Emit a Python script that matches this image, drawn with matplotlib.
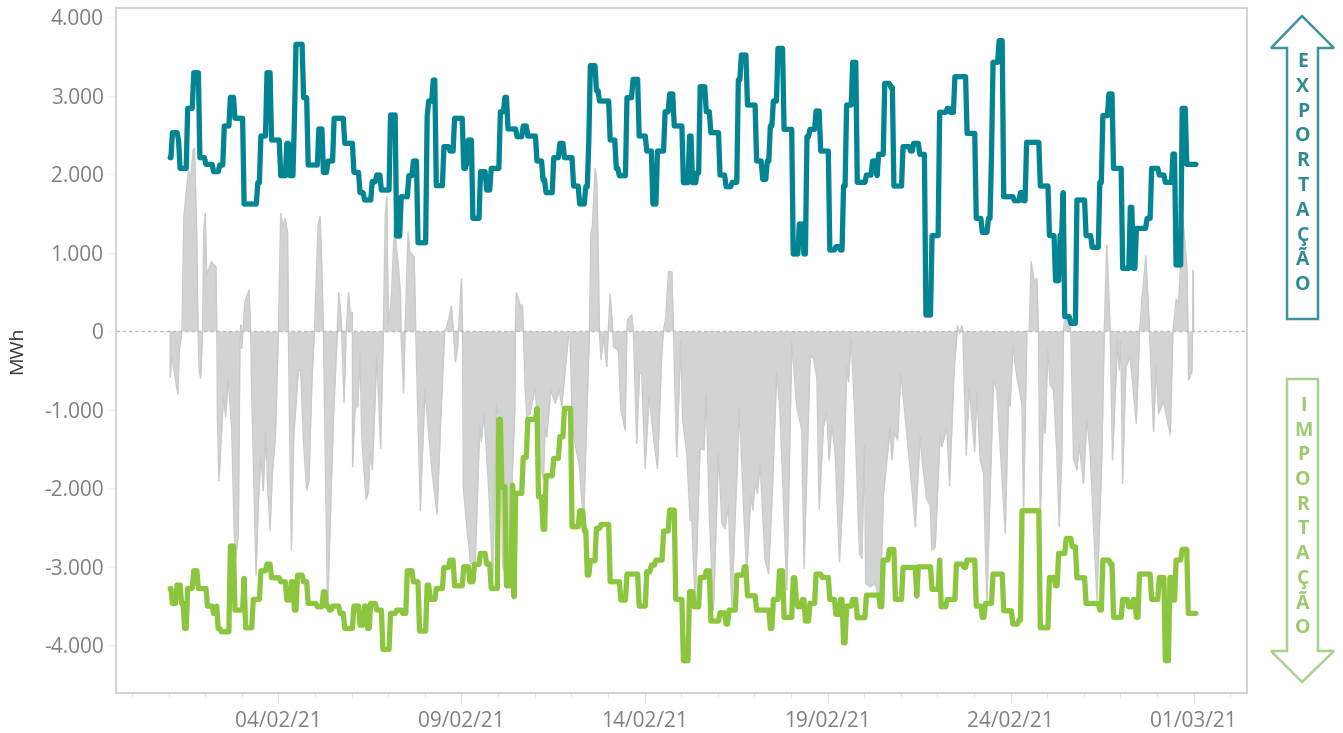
# %%
import matplotlib.pyplot as plt
import pandas as pd
from matplotlib.patches import Polygon

plt.rcParams["font.family"] = ["Open Sans", "DejaVu Sans"]

start = pd.Timestamp("2021-02-01")

# (hours after start, MWh), levels hold until the next point
export_points = [
    (1, 2208), (2, 2527), (6, 2433), (7, 2072), (12, 2837), (16, 3291), (20, 2208), (24, 2123),
    (29, 2030), (33, 2115), (36, 2612), (40, 2977), (43, 2710), (49, 1618), (58, 1890), (60, 2484),
    (64, 3291), (67, 2433), (73, 1979), (77, 2391), (79, 1979), (82, 2710), (83, 3652), (88, 2973),
    (91, 2115), (98, 2574), (101, 2021), (104, 2166), (108, 2710), (115, 2391), (121, 2021),
    (125, 1763), (128, 1669), (133, 1903), (136, 1987), (139, 1796), (145, 2752), (149, 1210),
    (152, 1711), (157, 1979), (160, 2166), (163, 1125), (169, 2731), (170, 2930), (173, 3198),
    (175, 1852), (180, 2349), (184, 2293), (187, 2710), (193, 2072), (195, 2136), (196, 2433),
    (199, 1435), (204, 2030), (208, 1796), (211, 2072), (217, 2794), (220, 2977), (222, 2574),
    (228, 2476), (232, 2612), (235, 2484), (241, 2166), (245, 1924), (247, 1763), (252, 2208),
    (256, 2391), (259, 2208), (265, 1847), (269, 1618), (273, 1839), (275, 2433), (276, 3381),
    (280, 3062), (282, 2930), (289, 2433), (293, 2072), (295, 1979), (300, 2973), (304, 3206),
    (308, 2484), (313, 2293), (317, 1618), (320, 2293), (325, 2794), (328, 3020), (331, 2612),
    (337, 1890), (341, 2484), (343, 1890), (346, 2017), (348, 3113), (352, 2794), (355, 2527),
    (361, 1987), (365, 1839), (369, 1894), (373, 3198), (375, 3516), (379, 2879), (385, 2166),
    (389, 1932), (392, 2166), (394, 2612), (396, 2930), (399, 3601), (403, 2569), (409, 981),
    (413, 1363), (416, 981), (418, 2476), (420, 2569), (424, 2803), (427, 2293), (433, 1032),
    (437, 1075), (440, 1032), (442, 1847), (444, 2879), (448, 3423), (451, 1894), (457, 1987),
    (461, 2166), (464, 1979), (465, 2251), (469, 3155), (473, 3105), (475, 1847), (481, 2349),
    (486, 2293), (488, 2391), (492, 2251), (496, 204), (500, 1215), (505, 2786), (510, 2837),
    (512, 2786), (515, 3240), (523, 2518), (529, 1435), (533, 1257), (537, 1435), (539, 2242),
    (540, 3423), (544, 3699), (547, 1711), (554, 1660), (558, 1763), (560, 1660), (562, 2404),
    (571, 1847), (577, 1215), (581, 641), (584, 1223), (586, 1763), (587, 183), (591, 98),
    (595, 1669), (601, 1215), (605, 1066), (610, 1894), (612, 2744), (616, 3020), (619, 2072),
    (625, 798), (630, 1576), (632, 798), (634, 1308), (641, 1435), (644, 2072), (649, 1987),
    (653, 1894), (658, 2255), (660, 841), (664, 2837), (667, 2123), (673, 2123),
]

import_points = [
    (1, -3279), (2, -3470), (5, -3236), (8, -3470), (10, -3788), (12, -3279), (16, -3054), (19, -3279),
    (25, -3504), (29, -3597), (31, -3504), (32, -3788), (34, -3831), (40, -2739), (43, -3555),
    (49, -3151), (50, -3780), (55, -3419), (60, -3054), (64, -2969), (67, -3143), (73, -3194),
    (77, -3427), (80, -3194), (82, -3555), (84, -3109), (88, -3194), (91, -3470), (97, -3512),
    (101, -3321), (103, -3504), (105, -3555), (107, -3504), (112, -3597), (115, -3788), (121, -3504),
    (125, -3746), (128, -3504), (130, -3788), (132, -3470), (136, -3555), (140, -4056), (145, -3597),
    (149, -3555), (153, -3597), (156, -3054), (160, -3194), (164, -3822), (169, -3236), (171, -3419),
    (175, -3279), (180, -3011), (184, -2918), (187, -3245), (193, -3003), (197, -3194), (200, -2973),
    (204, -2833), (208, -2969), (211, -3279), (216, -1125), (218, -1983), (221, -3245), (225, -1962),
    (226, -3385), (227, -2068), (232, -1610), (235, -1125), (241, -985), (242, -2111), (245, -2527),
    (247, -1843), (252, -1622), (256, -1346), (259, -985), (264, -2493), (269, -2289), (272, -2544),
    (274, -3109), (276, -2926), (280, -2514), (283, -2463), (289, -3194), (296, -3427), (300, -3096),
    (308, -3504), (313, -3066), (316, -2981), (319, -2918), (324, -2548), (328, -2281), (332, -3419),
    (337, -4200), (341, -3321), (344, -3512), (348, -3139), (352, -3054), (355, -3695), (361, -3589),
    (365, -3733), (367, -3555), (372, -3109), (377, -3003), (379, -3372), (385, -3555), (394, -3788),
    (396, -3419), (400, -3054), (403, -3648), (409, -3143), (411, -3419), (412, -3512), (415, -3419),
    (417, -3695), (420, -3470), (424, -3096), (428, -3139), (433, -3419), (437, -3610), (440, -3419),
    (442, -3971), (444, -3504), (448, -3419), (451, -3652), (457, -3364), (466, -3512), (468, -2918),
    (472, -2782), (476, -3419), (481, -3011), (490, -3376), (491, -3003), (500, -3291), (505, -2918),
    (506, -3512), (510, -3419), (516, -2969), (521, -3011), (523, -2918), (529, -3504), (533, -3648),
    (535, -3470), (540, -3096), (547, -3563), (553, -3733), (557, -3682), (559, -2289), (571, -3780),
    (577, -3139), (581, -3245), (583, -2833), (588, -2642), (592, -2748), (595, -3143), (601, -3470),
    (610, -3555), (612, -2918), (617, -2969), (619, -3648), (625, -3419), (629, -3512), (632, -3419),
    (634, -3648), (636, -3096), (644, -3419), (649, -3139), (653, -4200), (656, -3139), (658, -3427),
    (660, -2918), (664, -2782), (668, -3597), (673, -3597),
]

net_points = [
    (1, 0), (1, -590), (2, -306), (4, -560), (6, -803), (7, -242), (8.7, 0), (10, 1457), (13, 2051),
    (14.6, 1945), (16, 2306), (17, 2327), (18.4, 1244), (19.3, 0), (20, -497), (21, -603), (22.3, 0),
    (23, 1244), (24, 1499), (25, 713), (28, 883), (31, 820), (31.6, 0), (32, -1134), (33, -1907),
    (36, -815), (37.4, -1091), (39, -603), (41.4, -1261), (43, -2578), (44, -2896), (45.7, -2578),
    (46.8, -85), (47.3, 76), (48, -221), (50, 374), (52.7, 522), (53.8, 0), (54.5, -800), (56, -2068),
    (57.3, -3109), (58.8, -2200), (60.4, -1580), (62, -2034), (63.7, -1304), (65, -2000), (66.5, -2544),
    (68, -1813), (70, -1346), (72, 0), (73.5, 1499), (75, 1329), (76.4, 1435), (78, 1244), (78.5, 0),
    (79.6, -1650), (80.5, -2782), (82, -1346), (85, -497), (86.6, -497), (88.4, -1389), (90.5, -2026),
    (92, -1900), (94, -624), (95.6, 0), (98, 1350), (99.3, 1457), (100.4, 820), (101.5, 0), (104, -3342),
    (104.4, -3427), (108, -1134), (110.6, 0), (111.5, 488), (112.8, 225), (113.5, 0), (115, -913),
    (116.4, 0), (118, 488), (119, 238), (120.4, 238), (120.5, 0), (120.6, -1729), (122.2, -985),
    (124, -960), (125.5, -285), (126.6, -1325), (129.4, -2145), (131, -2047), (132, -1546), (133.6, -1771),
    (136.5, -306), (139, -1495), (140.8, 0), (142, 1457), (143, 1711), (144, 76), (146, 400), (148, 1329),
    (150.6, 820), (152, 480), (152.3, 0), (154, -786), (155, 0), (157, 1266), (158, 1011), (161, 947),
    (162, 0), (164, -1500), (165, -2289), (168, -752), (170.5, -1300), (172.6, -1771), (176, -2332),
    (178.4, -1134), (181, 0), (182, 34), (183.5, 140), (185.4, 319), (186.7, 0), (188, -391), (189.5, -212),
    (190, 0), (192, 662), (192.7, 0), (193.2, -1983), (195.5, -2493), (198, -2960), (201, -2960),
    (204, -1198), (205, -1410), (206.8, -1049), (209.8, -2000), (212.5, -3151), (215, -922), (217.8, -1350),
    (219, -3000), (222, -3200), (225, -2000), (227, -1000), (227.3, 0), (228, 488), (230.4, 331), (232, 331),
    (232.6, 0), (233.7, -709), (234.8, -1091), (237, -1049), (240.3, -709), (243.5, -1644), (245.7, -1898),
    (246.8, -1240), (247.9, -1346), (250.5, -752), (253.4, -921), (256.2, -752), (257.7, -964), (262.1, -72),
    (263.2, -72), (264.7, -1219), (267.6, -1559), (269.1, -1686), (272, -2450), (274.1, -1134), (275.9, 0),
    (276.8, 1244), (277.8, 1329), (279.6, 2072), (280.7, 1924), (281.8, 820), (282.4, 0), (283.5, -361),
    (285, -72), (287.2, -454), (288.3, 0), (289.4, 480), (291.2, 0), (291.6, -200), (294.9, -242),
    (296.4, -985), (299.3, -1261), (300.4, 0), (301, 149), (303.6, 204), (304.7, 0), (306.9, -1431),
    (308.7, -518), (310.2, -560), (312.4, -1750), (315, -815), (317.8, -1346), (320.5, -1750), (323.3, -285),
    (324.4, 0), (326, 183), (327.7, 756), (329.9, 756), (331, 0), (333.1, -1600), (335.8, -136), (337, -1134),
    (339.7, -1559), (341.9, -2408), (343, -2408), (345.2, -3470), (348.4, -1495), (351, -1516), (352.4, -815),
    (354.6, -2408), (357.2, -3555), (360.5, -1537), (362.7, -2450), (364.8, -2514), (367, -2217), (369.2, -3512),
    (374.2, -985), (376.9, -2239), (379, -3087), (381.7, -2090), (383, -2281), (384.5, -1941), (386, -2068),
    (387.8, -1686), (391, -2918), (393.3, -3087), (395.4, -2239), (398.7, -518), (400.9, -1049), (405.3, -3300),
    (408.6, -136), (411.8, -964), (415.1, -1261), (416.6, -3024), (420.6, -306), (422.8, -348), (425, -600),
    (426.5, -2272), (429.3, -1219), (431.5, -1049), (433, -1644), (434.8, -1198), (437, -1559), (439.8, -2939),
    (442.4, -2000), (444.6, -454), (445.7, -646), (447.5, -93), (450, -1134), (452.9, -2833), (454.5, -2896),
    (456.2, -1453), (457, -3215), (460, -3258), (463.2, -3215), (466.5, -3470), (468.7, -2068), (473, -1240),
    (474.2, -1644), (475.7, -1283), (477.9, -1389), (480, -540), (482.9, -1092), (486.2, -1771), (489.5, -2493),
    (492.7, -1346), (494.5, -1729), (497.1, -2153), (499.3, -2217), (500.4, -2790), (502.6, -2748),
    (505.8, -1304), (506.9, -1474), (510.2, -1219), (512, -1971), (515, -497), (517.2, 68), (518.5, -30),
    (520, 68), (520.7, 0), (522.9, -1580), (524.9, -709), (528.4, -1537), (529.9, -773), (532.1, -1644),
    (534.3, -1813), (536.4, -3470), (540.8, -624), (543, -752), (548.5, -2578), (550.7, -794), (551.7, -964),
    (553.5, -178), (556.1, -582), (559.4, -922), (560.5, -2281), (562.7, 0), (564.2, 0), (565.5, 883),
    (567.5, 629), (569.2, 671), (570.3, 0), (571.4, -2408), (573.6, -1007), (574.7, -1304), (576.4, -242),
    (578, -688), (580.2, -752), (582.3, -1559), (583.9, -2493), (585.6, -1559), (586.7, 0), (587.2, 120),
    (589.3, 161), (591.5, 0), (593.3, -1644), (595.5, -1771), (597, -1453), (599.8, -1941), (602, -1113),
    (604.2, -1559), (608.6, -3427), (611.9, -1559), (613.4, 0), (615.1, 1096), (617.3, 0), (618.8, -1644),
    (622.1, -115), (623.2, -497), (624.3, -115), (625.4, -1941), (627.6, -454), (630.4, -327), (634.4, -1176),
    (636.6, 0), (638.1, 395), (640.7, 960), (643.1, 0), (645.7, -1283), (647.5, -454), (649, -1049),
    (652.3, -900), (656.7, -1325), (658.4, 0), (660.6, 408), (662.1, 352), (665, 1418), (667.6, 820),
    (668.3, 0), (668.7, -624), (670.9, -518), (671.3, 0), (671.8, 777), (672, 0),
]

y_ticks = [4000, 3000, 2000, 1000, 0, -1000, -2000, -3000, -4000]
y_labels = ["4.000", "3.000", "2.000", "1.000", "0", "-1.000", "-2.000", "-3.000", "-4.000"]
x_ticks = ["2021-02-04", "2021-02-09", "2021-02-14", "2021-02-19", "2021-02-24", "2021-03-01"]
x_labels = ["04/02/21", "09/02/21", "14/02/21", "19/02/21", "24/02/21", "01/03/21"]
export_letters = list("EXPORTAÇÃO")
import_letters = list("IMPORTAÇÃO")


def to_series(points):
    hours, mwh = zip(*points)
    return start + pd.to_timedelta(hours, unit="h"), mwh


def to_ramps(points):
    # hourly data: each level change takes one hour on the line
    hours, mwh = [points[0][0]], [points[0][1]]
    for (h, value), (_, prev) in zip(points[1:], points[:-1]):
        hours += [h - 0.5, h + 0.5]
        mwh += [prev, value]
    return start + pd.to_timedelta(hours, unit="h"), mwh


W, H = 1343, 733
fig = plt.figure(figsize=(W / 100, H / 100), dpi=100)
ax = fig.add_axes([116 / W, 1 - 693 / H, (1247 - 116) / W, (693 - 8) / H])

# %%
# net balance, then the two lines on top
t, v = to_series(net_points)
ax.fill_between(t, v, 0, color="#D2D4D4", lw=0)
ax.plot(t, v, color="#C9CBCB", lw=1)
ax.axhline(0, color="#BBBBBB", lw=1, ls=(0, (2.5, 2)))

t, v = to_ramps(export_points)
ax.plot(t, v, color="#038492", lw=3.8, solid_joinstyle="round", solid_capstyle="round")
t, v = to_ramps(import_points)
ax.plot(t, v, color="#8CC63E", lw=3.8, solid_joinstyle="round", solid_capstyle="round")

ax.set_yticks(y_ticks, y_labels)
ax.set_xticks(pd.to_datetime(x_ticks), x_labels)
ax.set_xticks(pd.date_range("2021-01-31", "2021-03-02", freq="D"), minor=True)
ax.set_ylim(-4611, 4115)
ax.set_xlim(start - pd.Timedelta(hours=34.5), start + pd.Timedelta(hours=707))
ax.tick_params(axis="y", length=6, color="#F0F0F0", labelcolor="#808080", labelsize=15, pad=3)
ax.tick_params(axis="x", which="major", length=7, color="#DDDDDD", labelcolor="#808080", labelsize=15, pad=6)
ax.tick_params(axis="x", which="minor", length=3, color="#DDDDDD")
for spine in ax.spines.values():
    spine.set_color("#CCCCCC")
    spine.set_linewidth(1.2)
ax.set_ylabel("MWh", color="#333333", fontsize=14)
ax.yaxis.set_label_coords(-90 / (1247 - 116), (693 - 350) / (693 - 8))

# %%
# side arrows, drawn in pixel coordinates
over = fig.add_axes([0, 0, 1, 1])
over.set_xlim(0, W)
over.set_ylim(H, 0)
over.axis("off")

up_arrow = [(1302, 16), (1334, 48), (1318, 48), (1318, 319), (1287, 319), (1287, 48), (1271, 48)]
down_arrow = [(1302, 682), (1334, 651), (1318, 651), (1318, 379), (1287, 379), (1287, 651), (1271, 651)]
over.add_patch(Polygon(up_arrow, closed=True, fill=False, ec="#3F939E", lw=1.8))
over.add_patch(Polygon(down_arrow, closed=True, fill=False, ec="#A9D18E", lw=1.8))

for i, letter in enumerate(export_letters):
    over.text(1303, 62 + i * 24.8, letter, color="#2F8A96", fontsize=14, fontweight="bold", ha="center", va="center")
for i, letter in enumerate(import_letters):
    over.text(1303, 406 + i * 24.7, letter, color="#9CCB6E", fontsize=14, fontweight="bold", ha="center", va="center")

fig.savefig("out.png", dpi=100)
